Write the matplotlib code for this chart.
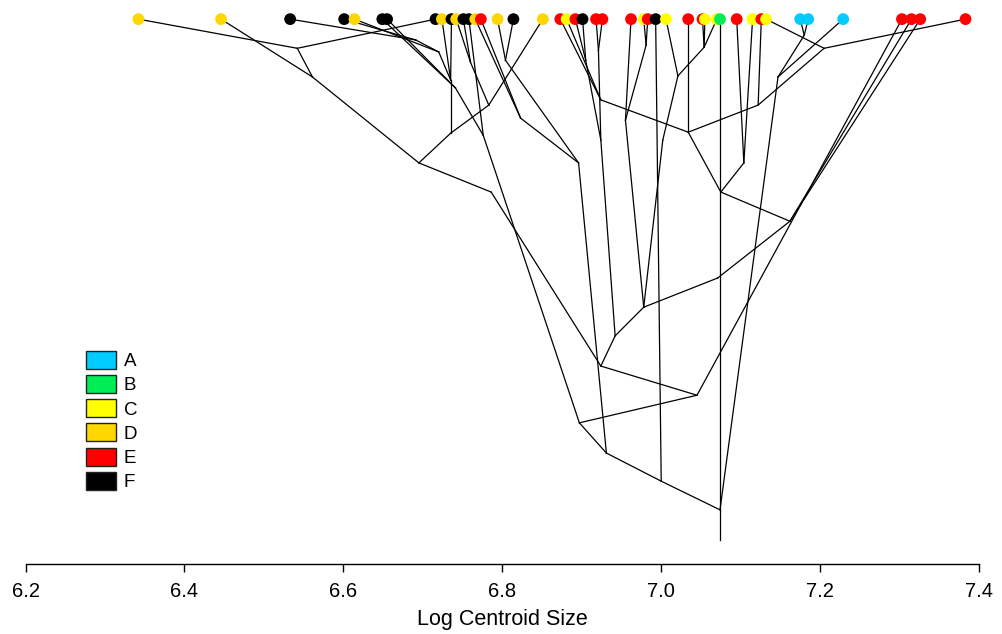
import numpy as np
import matplotlib.pyplot as plt
from matplotlib.patches import Patch

plt.rcParams['font.family'] = ['Liberation Sans', 'DejaVu Sans']

# === tips (log centroid size, group, parent node) ===
tip_x = [6.342, 6.446, 6.533, 6.601, 6.614, 6.649, 6.655, 6.716, 6.724, 6.736,
         6.742, 6.751, 6.758, 6.766, 6.773, 6.794, 6.814, 6.851, 6.873, 6.881,
         6.892, 6.901, 6.918, 6.926, 6.962, 6.978, 6.983, 6.993, 7.006, 7.034,
         7.052, 7.055, 7.070, 7.074, 7.095, 7.115, 7.126, 7.132, 7.175, 7.185,
         7.229, 7.303, 7.315, 7.326, 7.383]
tip_group = ["D", "D", "F", "F", "D", "F", "F", "F", "D", "F",
             "D", "F", "F", "D", "E", "D", "F", "D", "E", "C",
             "E", "F", "E", "E", "E", "C", "E", "F", "C", "E",
             "E", "C", "C", "B", "E", "C", "E", "C", "A", "A",
             "A", "E", "E", "E", "E"]
tip_parent = [10, 9, 29, 29, 28, 31, 31, 10, 27, 27,
              30, 30, 18, 32, 32, 41, 41, 12, 26, 26,
              33, 33, 35, 35, 36, 37, 37, 2, 38, 23,
              40, 40, 40, 1, 22, 22, 24, 25, 20, 20,
              19, 5, 16, 16, 25]
tip_t = 1.0

# === internal nodes (trait value, relative time, parent) ===
node_x = [7.074, 7.074, 7.000, 6.931, 6.897, 7.045, 6.924, 6.786, 6.695, 6.561,
          6.542, 6.735, 6.783, 6.942, 6.978, 7.071, 7.162, 6.896, 6.776, 7.147,
          7.180, 7.075, 7.104, 7.034, 7.122, 7.205, 6.924, 6.735, 6.720, 6.691,
          6.760, 6.741, 6.823, 6.905, 6.924, 6.921, 6.955, 6.981, 7.021, 7.002,
          7.054, 6.804]
node_t = [0.000, 0.058, 0.113, 0.167, 0.225, 0.278, 0.334, 0.668, 0.724, 0.889,
          0.944, 0.781, 0.835, 0.392, 0.447, 0.503, 0.612, 0.724, 0.777, 0.889,
          0.969, 0.668, 0.724, 0.783, 0.835, 0.944, 0.845, 0.883, 0.937, 0.960,
          0.917, 0.868, 0.810, 0.921, 0.768, 0.940, 0.806, 0.950, 0.891, 0.768,
          0.946, 0.921]
node_parent = [-1, 0, 1, 2, 3, 4, 5, 6, 7, 8,
               9, 8, 11, 6, 13, 14, 15, 3, 4, 1,
               19, 16, 21, 21, 23, 24, 23, 11, 27, 28,
               12, 18, 17, 34, 13, 34, 14, 36, 39, 14,
               38, 17]

groups = ["A", "B", "C", "D", "E", "F"]
group_colors = {"A": "#00CCFF", "B": "#00EE55", "C": "#FFFF00",
                "D": "#FFD700", "E": "#FF0000", "F": "#000000"}

fig = plt.figure(figsize=(10.03, 6.34), dpi=100)
ax = fig.add_axes([0.0255, 0.1104, 0.9506, 0.8816])

# branches
for i, p in enumerate(node_parent):
    if p < 0:
        continue
    ax.plot([node_x[p], node_x[i]], [node_t[p], node_t[i]],
            color="black", lw=0.9, zorder=1)
for x, p in zip(tip_x, tip_parent):
    ax.plot([node_x[p], x], [node_t[p], tip_t], color="black", lw=0.9, zorder=1)

# tips
ax.scatter(tip_x, [tip_t] * len(tip_x), s=72,
           c=[group_colors[g] for g in tip_group], edgecolors="none", zorder=3)

ax.set_xlim(6.2, 7.4)
ax.set_ylim(-0.046, 1.027)
for s in ["left", "right", "top"]:
    ax.spines[s].set_visible(False)
ax.spines["bottom"].set_linewidth(1.0)
ax.set_yticks([])
ax.set_xticks(np.arange(6.2, 7.41, 0.2))
ax.set_xticklabels([f"{v:.1f}" for v in np.arange(6.2, 7.41, 0.2)])
ax.tick_params(axis="x", length=6, width=1.0, labelsize=14.5, pad=7)
ax.set_xlabel("Log Centroid Size", fontsize=15.5, labelpad=6)

handles = [Patch(facecolor=group_colors[g], edgecolor="#222222", lw=1.0, label=g)
           for g in groups]
ax.legend(handles=handles, loc="upper left", bbox_to_anchor=(0.055, 0.395),
          frameon=False, fontsize=13.5, handlelength=1.65, handleheight=1.1,
          handletextpad=0.4, labelspacing=0.26, borderaxespad=0)

fig.savefig("out.png", dpi=100)
